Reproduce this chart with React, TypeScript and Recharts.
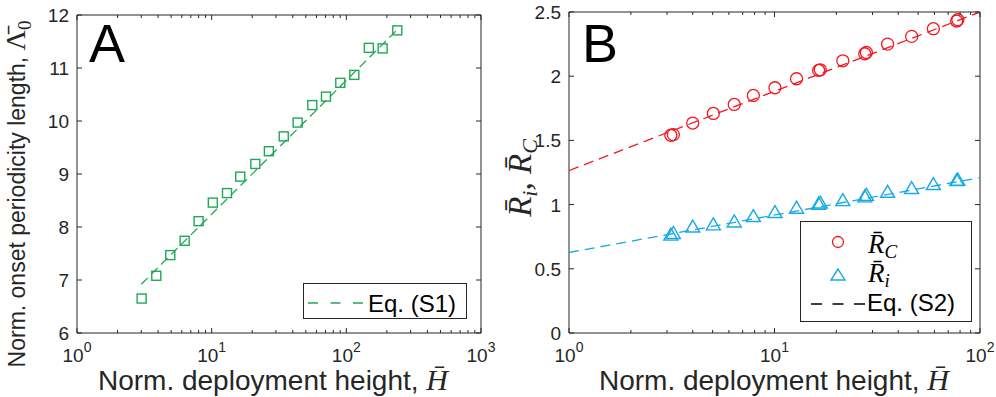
import React from 'react'
import { ScatterChart, Scatter, XAxis, YAxis, ReferenceArea, Legend } from 'recharts'

const AXIS = '#262626'
const GREEN = '#1fa855'
const RED = '#f4161e'
const BLUE = '#17a9e8'
const SANS = '"Liberation Sans", Arial, sans-serif'
const SERIF = '"Liberation Serif", "Times New Roman", serif'

// panel A: onset periodicity length vs deployment height
const hA = [3.02, 3.88, 4.93, 6.3, 8.0, 10.2, 13.0, 16.3, 21.1, 26.6, 34.3, 43.5, 55.9, 70.6, 90.2, 114.6, 147, 186, 239]
const lambdaA = [6.65, 7.08, 7.47, 7.74, 8.11, 8.46, 8.64, 8.95, 9.19, 9.43, 9.71, 9.97, 10.3, 10.46, 10.72, 10.87, 11.38, 11.37, 11.71]
const fitAx = [3.0, 245]
const fitAy = [6.92, 11.75]
const xTicksA = [1, 2, 3, 4, 5, 6, 7, 8, 9, 10, 20, 30, 40, 50, 60, 70, 80, 90, 100, 200, 300, 400, 500, 600, 700, 800, 900, 1000]
const yTicksA = [6, 7, 8, 9, 10, 11, 12]

// panel B: R_C and R_i vs deployment height
const hB = [3.13, 3.22, 4.0, 5.04, 6.37, 7.89, 10.05, 12.8, 16.4, 16.7, 21.5, 27.5, 28.0, 35.5, 46.5, 59.3, 77.0, 78.0]
const rC = [1.54, 1.545, 1.635, 1.71, 1.78, 1.85, 1.91, 1.98, 2.045, 2.05, 2.12, 2.175, 2.185, 2.25, 2.31, 2.37, 2.43, 2.44]
const rI = [0.762, 0.775, 0.825, 0.842, 0.865, 0.907, 0.938, 0.972, 1.003, 1.012, 1.031, 1.06, 1.072, 1.096, 1.125, 1.156, 1.187, 1.19]
const fitBx = [1, 100]
const fitCy = [1.265, 2.5]
const fitIy = [0.627, 1.21]
const xTicksB = [1, 2, 3, 4, 5, 6, 7, 8, 9, 10, 20, 30, 40, 50, 60, 70, 80, 90, 100]
const yTicksB = [0, 0.5, 1, 1.5, 2, 2.5]

const zip = (xs: number[], ys: number[]) => xs.map((x, i) => ({ x, y: ys[i] }))

type Box = { left: number; right: number; top: number; bottom: number }
const boxA: Box = { left: 77, right: 481, top: 15, bottom: 333 }
const boxB: Box = { left: 69, right: 480, top: 12, bottom: 333 }

function makeXTick(box: Box) {
  return (props: any) => {
    const { x, y, payload } = props
    const p = Math.log10(payload.value)
    const major = Math.abs(p - Math.round(p)) < 1e-9
    const len = major ? 5 : 3
    return (
      <g>
        <line x1={x} x2={x} y1={y} y2={y - len} stroke={AXIS} />
        <line x1={x} x2={x} y1={box.top} y2={box.top + len} stroke={AXIS} />
        {major && (
          <text x={x} y={y + 29} textAnchor="middle" fontFamily={SANS} fontSize={19} fill={AXIS}>
            10<tspan dy={-10} fontSize={14}>{Math.round(p)}</tspan>
          </text>
        )}
      </g>
    )
  }
}

function makeYTick(box: Box) {
  return (props: any) => {
    const { x, y, payload } = props
    return (
      <g>
        <line x1={x} x2={x + 5} y1={y} y2={y} stroke={AXIS} />
        <line x1={box.right} x2={box.right - 5} y1={y} y2={y} stroke={AXIS} />
        <text x={x - 8} y={y + 7} textAnchor="end" fontFamily={SANS} fontSize={19} fill={AXIS}>
          {payload.value}
        </text>
      </g>
    )
  }
}

const noDot = () => <g />
const square = (p: any) => (
  <rect x={p.cx - 4.5} y={p.cy - 4.5} width={9} height={9} fill="none" stroke={GREEN} strokeWidth={1.4} />
)
const circle = (p: any) => <circle cx={p.cx} cy={p.cy} r={6} fill="none" stroke={RED} strokeWidth={1.3} />
const triangle = (p: any) => (
  <polygon
    points={`${p.cx},${p.cy - 7} ${p.cx - 7},${p.cy + 5} ${p.cx + 7},${p.cy + 5}`}
    fill="none"
    stroke={BLUE}
    strokeWidth={1.4}
  />
)

const xTitle = (cx: number) => () => (
  <text x={cx} y={390} textAnchor="middle" fontFamily={SANS} fontSize={28} fill={AXIS}>
    {'Norm. deployment height, '}
    <tspan fontFamily={SERIF} fontStyle="italic" fontSize={30}>{'H\u0304'}</tspan>
  </text>
)

const yTitleA = () => (
  <g>
    <text transform="translate(25,194) rotate(-90)" textAnchor="middle" fontFamily={SANS} fontSize={23} fill={AXIS}>
      {'Norm. onset periodicity length, '}
      <tspan fontFamily={SERIF} fontSize={28}>{'\u039B\u0304'}</tspan>
      <tspan fontFamily={SERIF} fontSize={19} dy={6}>0</tspan>
    </text>
    <text x={89} y={62} fontFamily={SANS} fontSize={54} fill="#000">A</text>
  </g>
)

const yTitleB = () => (
  <g>
    <text transform="translate(31,178) rotate(-90)" textAnchor="middle" fontFamily={SERIF} fontStyle="italic" fontSize={33} fill={AXIS}>
      {'R\u0304'}
      <tspan fontSize={22} dy={6}>i</tspan>
      <tspan dy={-6}>{', R\u0304'}</tspan>
      <tspan fontSize={22} dy={6}>C</tspan>
    </text>
    <text x={82} y={62} fontFamily={SANS} fontSize={54} fill="#000">B</text>
  </g>
)

const legendA = () => (
  <svg width={164} height={36} style={{ display: 'block' }}>
    <rect x={0.5} y={0.5} width={163} height={35} fill="#fff" stroke={AXIS} />
    <line x1={5} x2={60} y1={20} y2={20} stroke={GREEN} strokeWidth={1.5} strokeDasharray="10 12.5" />
    <text x={65} y={29} fontFamily={SANS} fontSize={24} fill="#000">Eq. (S1)</text>
  </svg>
)

const legendB = () => (
  <svg width={172} height={101} style={{ display: 'block' }}>
    <rect x={0.5} y={0.5} width={171} height={100} fill="#fff" stroke={AXIS} />
    <circle cx={38} cy={21} r={5.5} fill="none" stroke={RED} strokeWidth={1.3} />
    <text x={68} y={32} fontFamily={SERIF} fontStyle="italic" fontSize={27} fill="#000">
      {'R\u0304'}
      <tspan fontSize={19} dy={5}>C</tspan>
    </text>
    <polygon points="38,48 31,59 45,59" fill="none" stroke={BLUE} strokeWidth={1.4} />
    <text x={68} y={61} fontFamily={SERIF} fontStyle="italic" fontSize={27} fill="#000">
      {'R\u0304'}
      <tspan fontSize={19} dy={5}>i</tspan>
    </text>
    <line x1={11} x2={65} y1={83} y2={83} stroke="#000" strokeWidth={1.5} strokeDasharray="11 10.5" />
    <text x={67} y={90} fontFamily={SANS} fontSize={24} fill="#000">Eq. (S2)</text>
  </svg>
)

export default function App() {
  return (
    <div style={{ position: 'absolute', left: 0, top: 0, width: 996, height: 397, background: '#fff' }}>
      <div style={{ position: 'absolute', left: 0, top: 0 }}>
        <ScatterChart width={500} height={397} margin={{ top: 15, right: 19, bottom: 0, left: 0 }}>
          <XAxis
            type="number"
            dataKey="x"
            scale="log"
            domain={[1, 1000]}
            allowDataOverflow
            ticks={xTicksA}
            interval={0}
            axisLine={false}
            tickLine={false}
            tickSize={0}
            tickMargin={0}
            tick={makeXTick(boxA)}
            height={64}
            label={xTitle(273)}
          />
          <YAxis
            type="number"
            dataKey="y"
            domain={[6, 12]}
            allowDataOverflow
            ticks={yTicksA}
            interval={0}
            axisLine={false}
            tickLine={false}
            tickSize={0}
            tickMargin={0}
            tick={makeYTick(boxA)}
            width={77}
            label={yTitleA}
          />
          <ReferenceArea x1={1} x2={1000} y1={6} y2={12} fill="none" stroke={AXIS} strokeWidth={1} />
          <Scatter
            data={zip(fitAx, fitAy)}
            line={{ stroke: GREEN, strokeWidth: 1.3, strokeDasharray: '9 5' }}
            shape={noDot}
            isAnimationActive={false}
          />
          <Scatter data={zip(hA, lambdaA)} shape={square} isAnimationActive={false} />
          <Legend
            layout="vertical"
            align="center"
            verticalAlign="middle"
            content={legendA}
            wrapperStyle={{ left: 303, top: 283, width: 164, height: 36 }}
          />
        </ScatterChart>
      </div>
      <div style={{ position: 'absolute', left: 500, top: 0 }}>
        <ScatterChart width={496} height={397} margin={{ top: 12, right: 16, bottom: 0, left: 0 }}>
          <XAxis
            type="number"
            dataKey="x"
            scale="log"
            domain={[1, 100]}
            allowDataOverflow
            ticks={xTicksB}
            interval={0}
            axisLine={false}
            tickLine={false}
            tickSize={0}
            tickMargin={0}
            tick={makeXTick(boxB)}
            height={64}
            label={xTitle(274)}
          />
          <YAxis
            type="number"
            dataKey="y"
            domain={[0, 2.5]}
            allowDataOverflow
            ticks={yTicksB}
            interval={0}
            axisLine={false}
            tickLine={false}
            tickSize={0}
            tickMargin={0}
            tick={makeYTick(boxB)}
            width={69}
            label={yTitleB}
          />
          <ReferenceArea x1={1} x2={100} y1={0} y2={2.5} fill="none" stroke={AXIS} strokeWidth={1} />
          <Scatter
            data={zip(fitBx, fitCy)}
            line={{ stroke: RED, strokeWidth: 1.3, strokeDasharray: '10 6' }}
            shape={noDot}
            isAnimationActive={false}
          />
          <Scatter
            data={zip(fitBx, fitIy)}
            line={{ stroke: BLUE, strokeWidth: 1.3, strokeDasharray: '10 6' }}
            shape={noDot}
            isAnimationActive={false}
          />
          <Scatter data={zip(hB, rC)} shape={circle} isAnimationActive={false} />
          <Scatter data={zip(hB, rI)} shape={triangle} isAnimationActive={false} />
          <Legend
            layout="vertical"
            align="center"
            verticalAlign="middle"
            content={legendB}
            wrapperStyle={{ left: 300, top: 221, width: 172, height: 101 }}
          />
        </ScatterChart>
      </div>
    </div>
  )
}
